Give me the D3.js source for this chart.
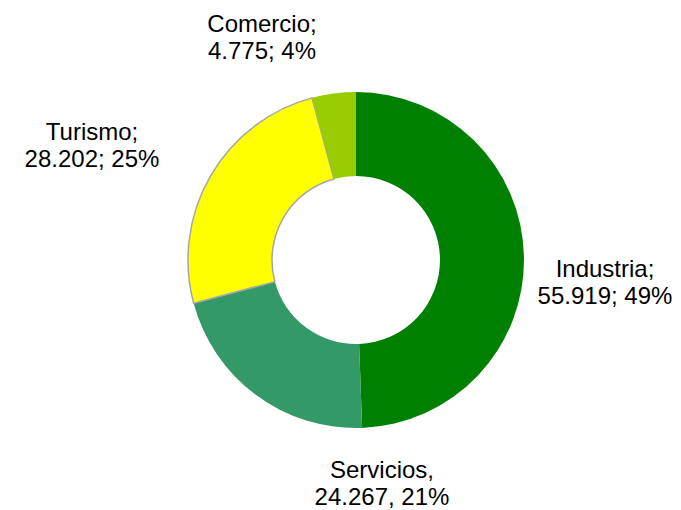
<!DOCTYPE html>
<html>
<head>
<meta charset="utf-8">
<script src="https://cdn.jsdelivr.net/npm/d3@7"></script>
<style>
  body { margin: 0; background: #fff; }
  svg { display: block; }
</style>
</head>
<body>
<div id="chart"></div>
<script>
// Data
const categories = ["Industria", "Servicios", "Turismo", "Comercio"];
const values = [55919, 24267, 28202, 4775];
const labelLines = [
  ["Industria;", "55.919; 49%"],
  ["Servicios,", "24.267, 21%"],
  ["Turismo;", "28.202; 25%"],
  ["Comercio;", "4.775; 4%"]
];
const colors = ["#008000", "#339966", "#ffff00", "#99cc00"];

// Layout
const width = 681;
const height = 510;
const cx = 356, cy = 260;
const outerR = 168, innerR = 84;
// label anchor (centre x, first baseline y) per category, placed by hand like the original
const labelPos = {
  Industria: [605, 277],
  Servicios: [382, 478],
  Turismo: [92, 140],
  Comercio: [262, 32]
};
const lineGap = 27;

const svg = d3
  .select("#chart")
  .append("svg")
  .attr("width", width)
  .attr("height", height);

const pie = d3.pie().sort(null).value(d => d.value);
const arc = d3.arc().innerRadius(innerR).outerRadius(outerR);

const data = categories.map((c, i) => ({ name: c, value: values[i], color: colors[i], lines: labelLines[i] }));

const g = svg.append("g").attr("transform", `translate(${cx},${cy})`);

g.selectAll("path")
  .data(pie(data))
  .join("path")
  .attr("d", arc)
  .attr("fill", d => d.data.color)
  .attr("stroke", d => (d.data.name === "Turismo" ? "#a6a6a6" : "none"))
  .attr("stroke-width", 1.5);

// Labels
data.forEach(d => {
  const [x, y] = labelPos[d.name];
  const t = svg
    .append("text")
    .attr("x", x)
    .attr("y", y)
    .attr("text-anchor", "middle")
    .attr("font-family", "Liberation Sans, Arial, sans-serif")
    .attr("font-size", "24px")
    .attr("fill", "#000");
  d.lines.forEach((line, i) => {
    t.append("tspan")
      .attr("x", x)
      .attr("y", y + i * lineGap)
      .text(line);
  });
});
</script>
</body>
</html>
